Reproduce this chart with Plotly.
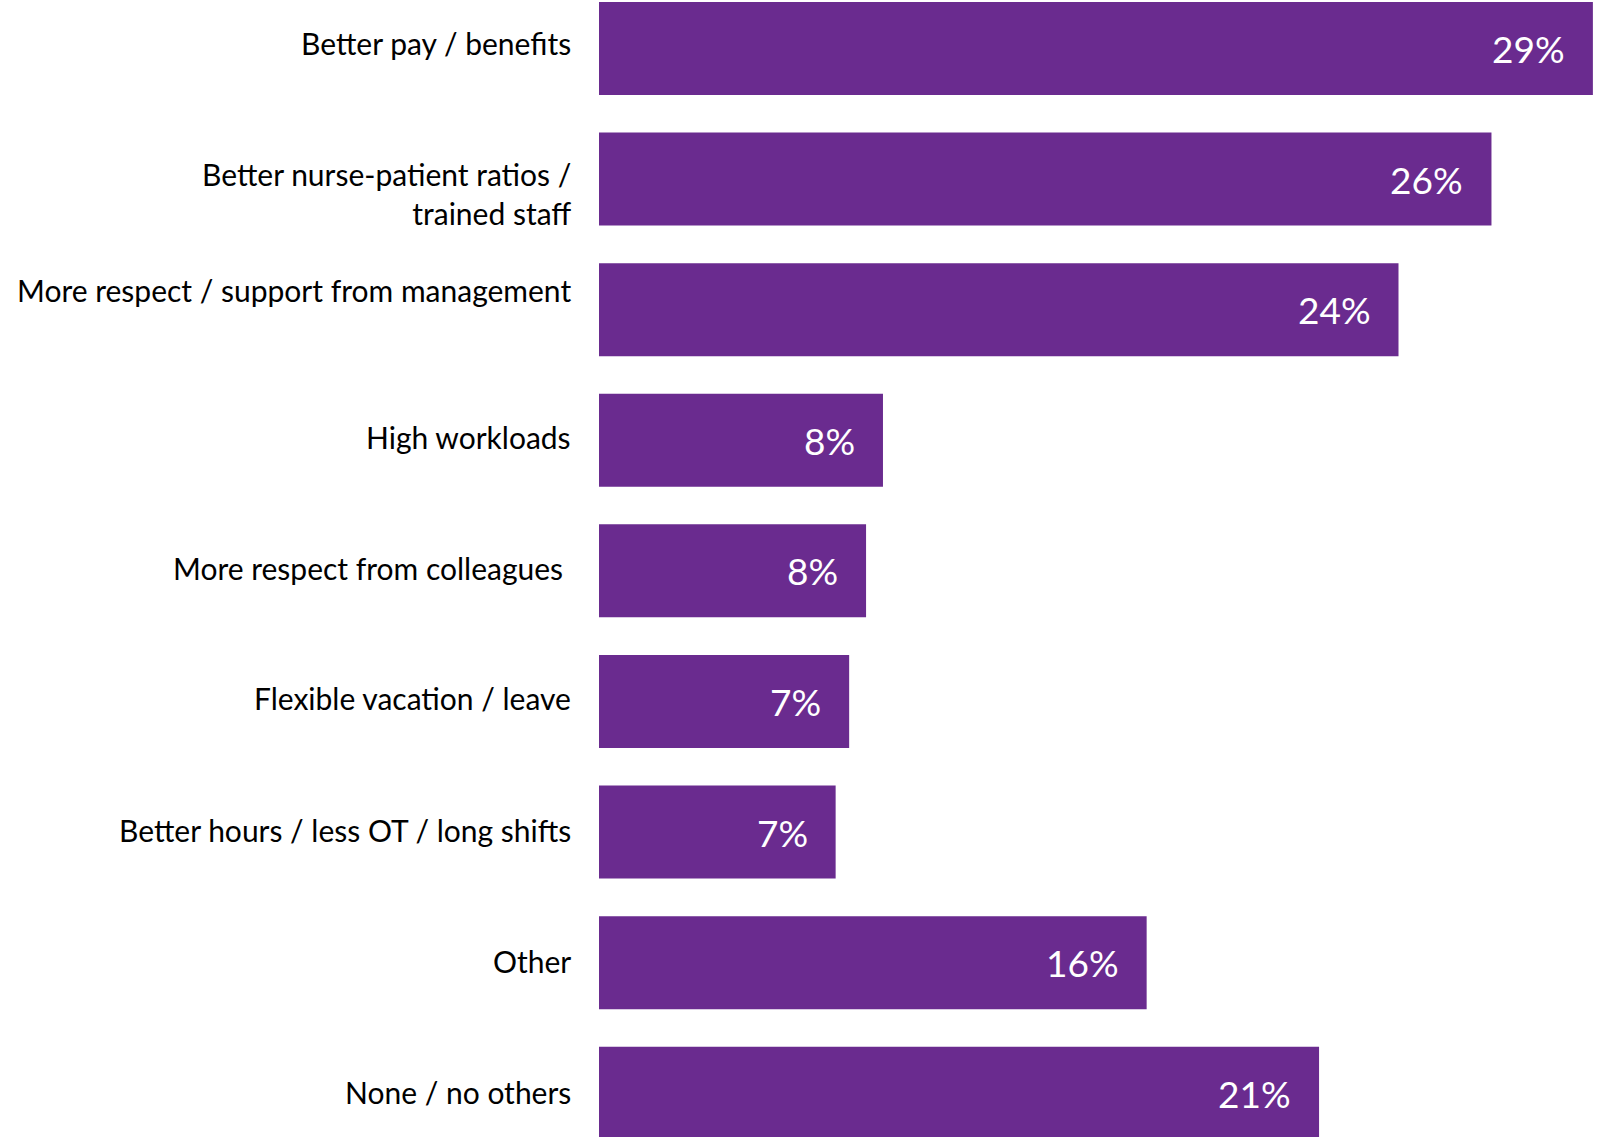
import plotly.graph_objects as go

# Reasons cited, top to bottom
categories = [
    "Better pay / benefits",
    "Better nurse-patient ratios / trained staff",
    "More respect / support from management",
    "High workloads",
    "More respect from colleagues",
    "Flexible vacation / leave",
    "Better hours / less OT / long shifts",
    "Other",
    "None / no others",
]
# Axis label text (line breaks as displayed)
tick_labels = [
    "Better pay / benefits",
    "Better nurse-patient ratios /<br>trained staff",
    "More respect / support from management",
    "High workloads",
    "More respect from colleagues ",
    "Flexible vacation / leave",
    "Better hours / less OT / long shifts",
    "Other",
    "None / no others",
]
# Share of respondents (%)
values = [29.4, 26.4, 23.65, 8.4, 7.9, 7.4, 7.0, 16.2, 21.3]

# Small vertical nudges for the category labels (px, positive = up)
label_shift = [5, -14, 20, 3, 3, 3, 2.5, 2, 1.5]

BAR_COLOR = "#6a2b8f"
FONT = "Lato"

fig = go.Figure(
    go.Bar(
        x=values,
        y=categories,
        orientation="h",
        marker=dict(color=BAR_COLOR, line=dict(width=0)),
        hoverinfo="skip",
    )
)

annotations = []
for cat, lab, val, dy in zip(categories, tick_labels, values, label_shift):
    # category label left of the bar
    annotations.append(dict(
        x=0, xref="paper", y=cat, yref="y",
        text=lab, showarrow=False,
        xanchor="right", yanchor="middle", align="right",
        xshift=-26, yshift=dy,
        font=dict(family=FONT, size=30, color="#000000"),
    ))
    # value label inside the bar end
    annotations.append(dict(
        x=val, xref="x", y=cat, yref="y",
        text=f"{val:.0f}%", showarrow=False,
        xanchor="right", yanchor="middle",
        xshift=-26,
        font=dict(family=FONT, size=37, color="#ffffff"),
    ))

fig.update_layout(
    width=1601, height=1137,
    margin=dict(l=599, r=0, t=0, b=0),
    paper_bgcolor="white", plot_bgcolor="white",
    bargap=0.288,
    showlegend=False,
    annotations=annotations,
    xaxis=dict(range=[0, 29.64], visible=False, fixedrange=True),
    yaxis=dict(type="category", range=[8.335, -0.371], visible=False, fixedrange=True),
)

fig.write_html("out.html", config={"displayModeBar": False})
